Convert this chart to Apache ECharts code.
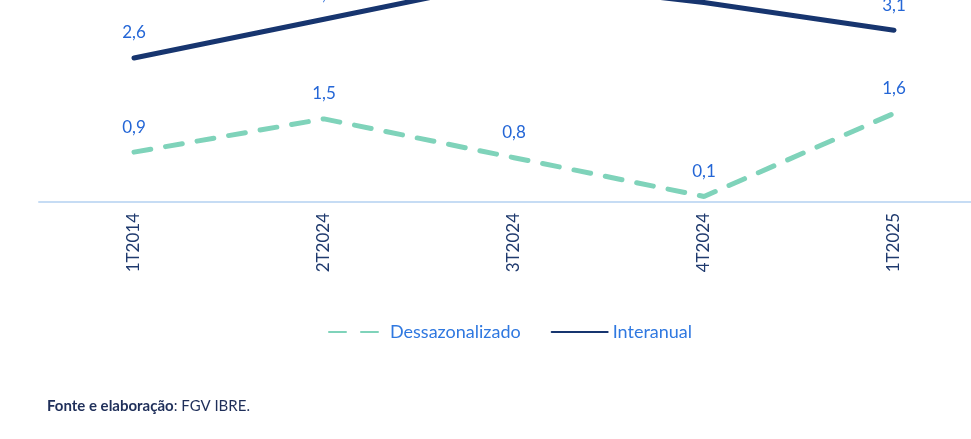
<!DOCTYPE html>
<html><head><meta charset="utf-8">
<script src="https://cdn.jsdelivr.net/npm/echarts@6/dist/echarts.min.js"></script>
<style>html,body{margin:0;padding:0;background:#fff}#c{width:971px;height:439px}</style>
</head><body><div id="c"></div>
<script>
const categories = ['1T2014','2T2024','3T2024','4T2024','1T2025'];
const dessazonalizado = [0.9, 1.5, 0.8, 0.1, 1.6];
const interanual = [2.6, 3.3, 4.0, 3.6, 3.1];
const seriesNames = ['Dessazonalizado','Interanual'];

const fmt = p => Number(p.value).toFixed(1).replace('.', ',');
const font = 'Lato, "Open Sans", sans-serif';
const chart = echarts.init(document.getElementById('c'));
chart.setOption({
  animation: false,
  backgroundColor: '#fff',
  grid: { left: 39, width: 950, top: -75, bottom: 237, containLabel: false, outerBoundsMode: 'none' },
  xAxis: {
    type: 'category', data: categories, boundaryGap: true,
    axisLine: { lineStyle: { color: '#c6dcf4', width: 2 } },
    axisTick: { show: false },
    axisLabel: { rotate: 90, margin: 11, color: '#1f3a6e', fontSize: 17, fontFamily: font }
  },
  yAxis: { type: 'value', min: 0, max: 5, show: false, splitLine: { show: false } },
  legend: {
    data: seriesNames, top: 318, left: 323, itemWidth: 56, itemHeight: 4, itemGap: 30,
    itemStyle: { opacity: 0 },
    textStyle: { color: '#2f78e0', fontSize: 18, fontFamily: font }
  },
  series: [
    { name: seriesNames[0], type: 'line', data: dessazonalizado, symbol: 'circle', symbolSize: 1,
      lineStyle: { color: '#7fd3ba', width: 5, type: [17, 15], cap: 'round' },
      itemStyle: { color: 'rgba(0,0,0,0)' },
      label: { show: true, position: 'top', distance: 16, color: '#2466d6', fontSize: 17, fontFamily: font, formatter: fmt } },
    { name: seriesNames[1], type: 'line', data: interanual, symbol: 'circle', symbolSize: 1,
      lineStyle: { color: '#17356f', width: 5, cap: 'round' },
      itemStyle: { color: 'rgba(0,0,0,0)' },
      label: { show: true, position: 'top', distance: 16, color: '#2466d6', fontSize: 17, fontFamily: font, formatter: fmt } }
  ],
  graphic: [{
    type: 'text', left: 47, top: 399,
    style: {
      text: '{b|Fonte e elaboração}{n|: FGV IBRE.}',
      rich: {
        b: { fontWeight: 'bold', fontSize: 15, fill: '#1f2f5a', fontFamily: font },
        n: { fontSize: 15, fill: '#1f2f5a', fontFamily: font }
      }
    }
  }]
});
</script></body></html>
